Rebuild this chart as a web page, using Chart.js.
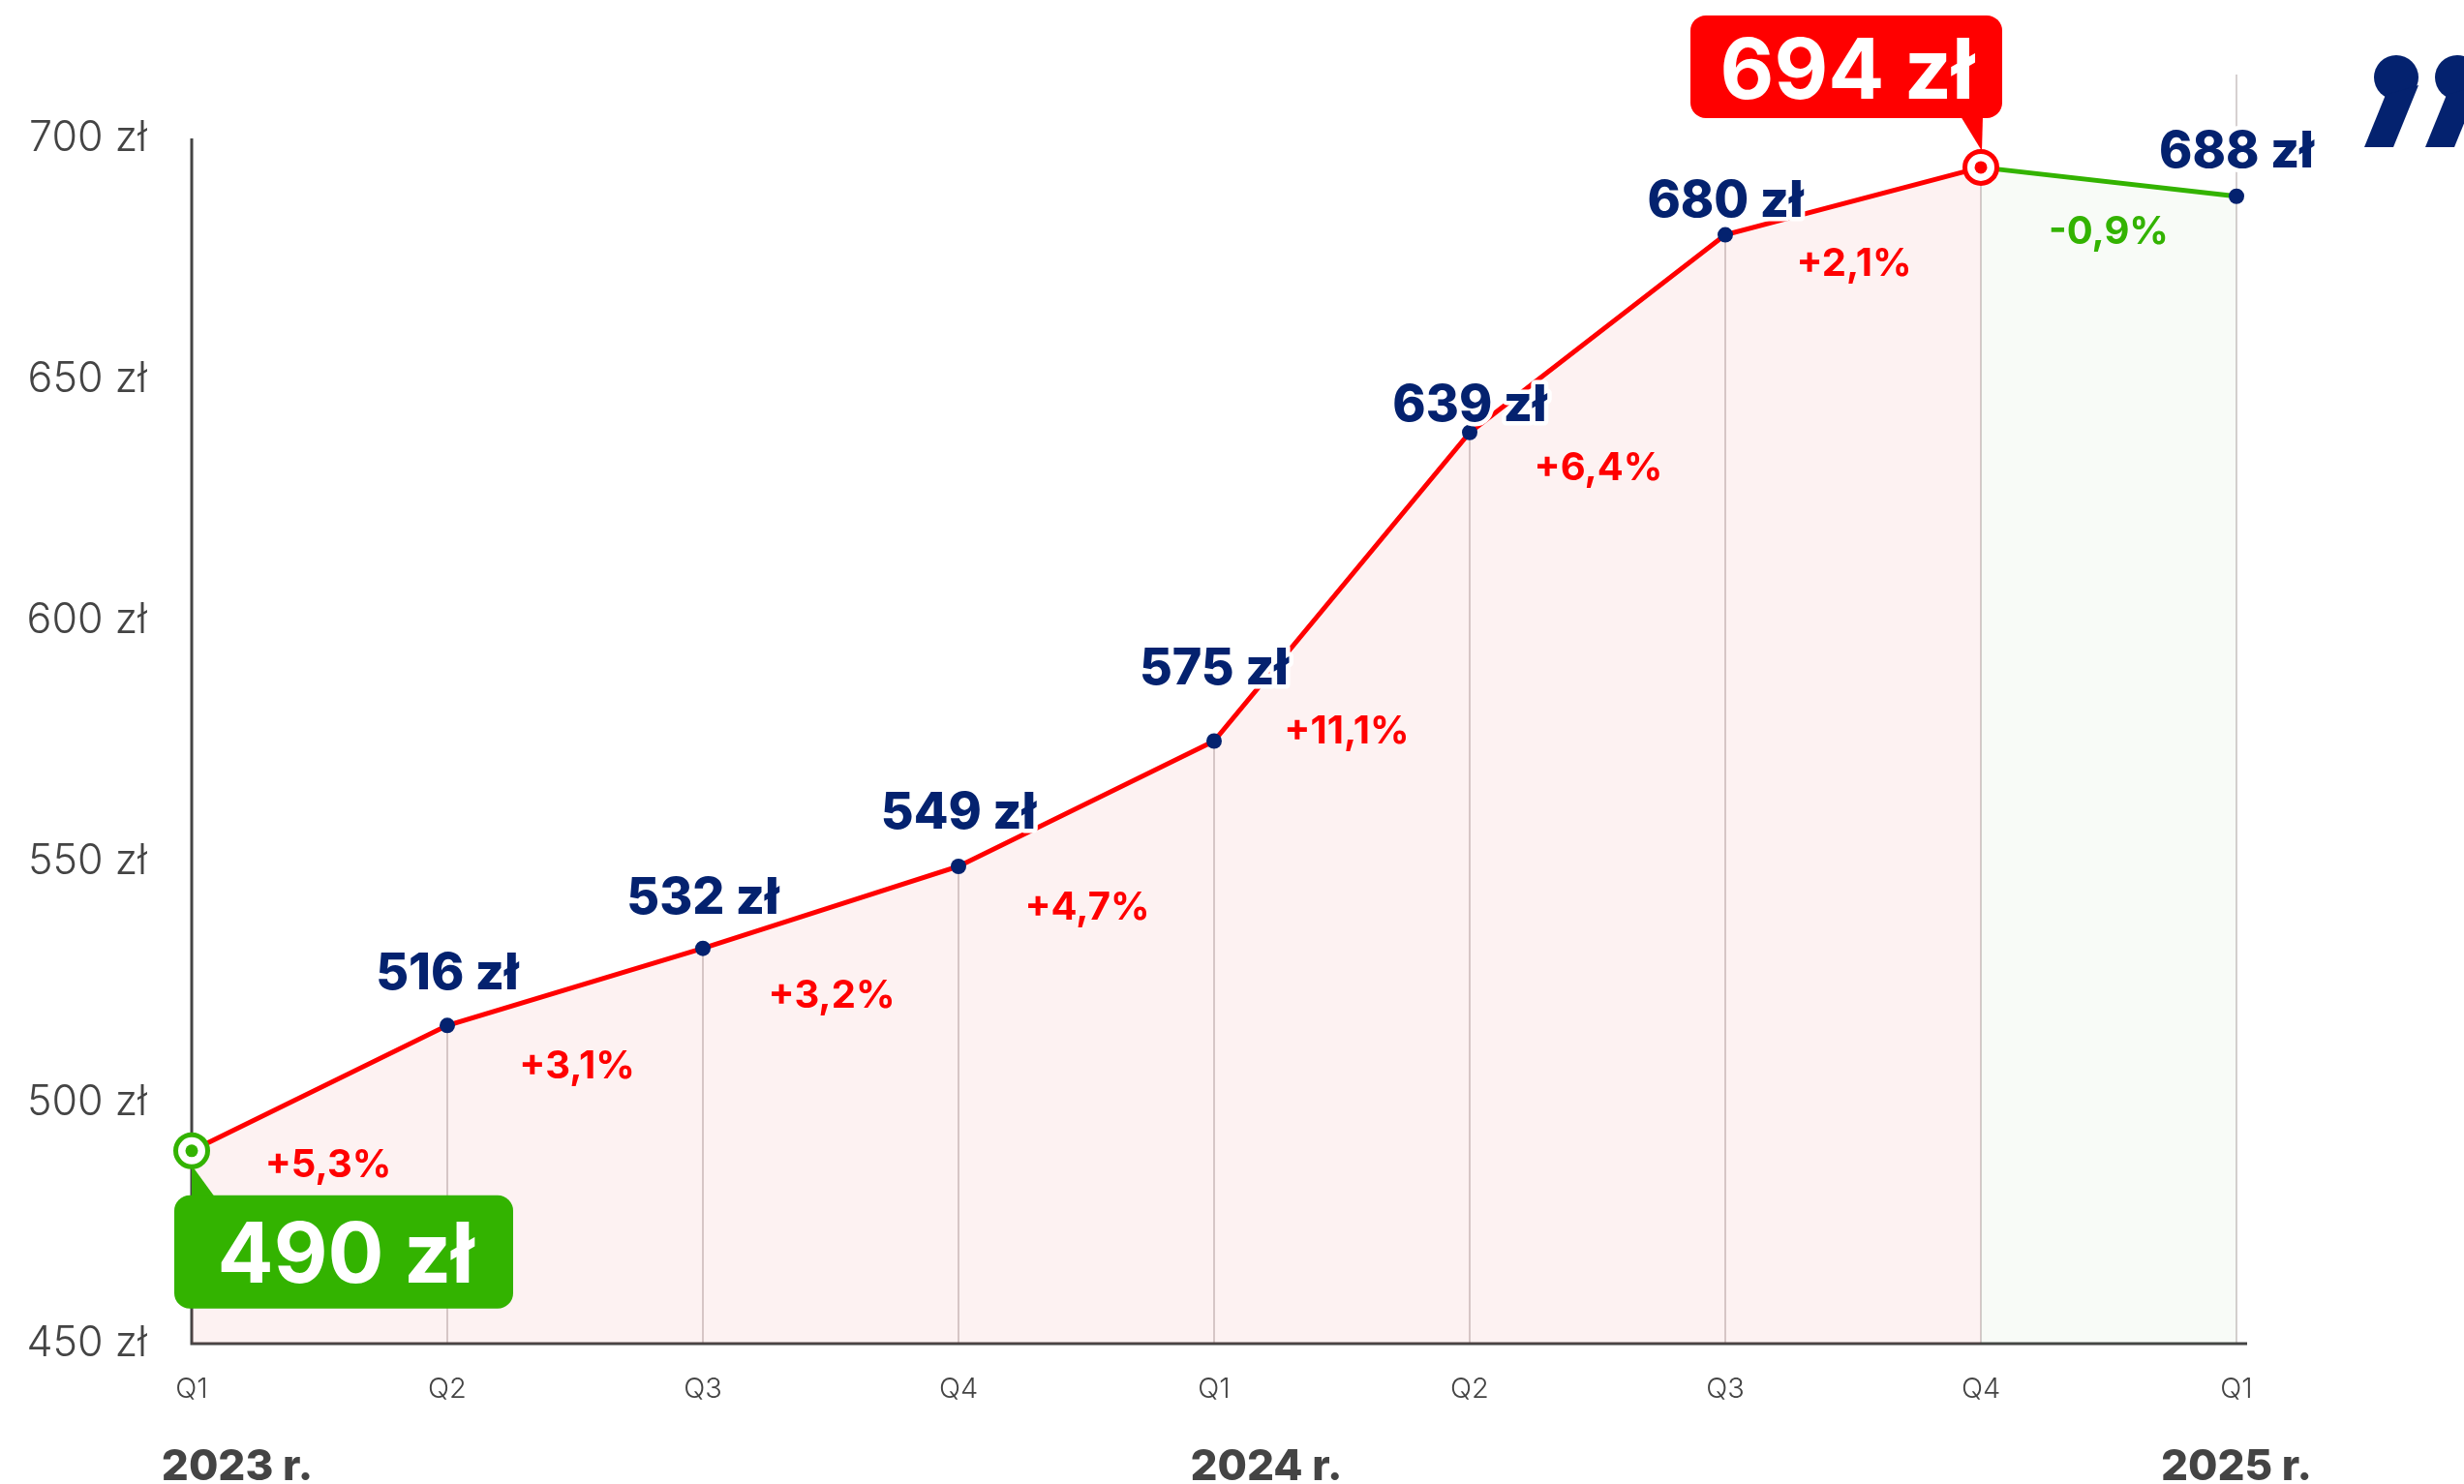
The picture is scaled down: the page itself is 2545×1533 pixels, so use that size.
<!DOCTYPE html>
<html lang="pl">
<head>
<meta charset="utf-8">
<script src="https://cdn.jsdelivr.net/npm/chart.js@4.4.1/dist/chart.umd.min.js"></script>
<style>
  html, body { margin: 0; padding: 0; background: #fff; overflow: hidden; }
  canvas { display: block; }
</style>
</head>
<body>
<canvas id="wykres" width="2545" height="1533"></canvas>
<script>
// Dane wykresu
const kwartaly = ['Q1', 'Q2', 'Q3', 'Q4', 'Q1', 'Q2', 'Q3', 'Q4', 'Q1'];
const ceny = [490, 516, 532, 549, 575, 639, 680, 694, 688];
const zmiany = ['+5,3%', '+3,1%', '+3,2%', '+4,7%', '+11,1%', '+6,4%', '+2,1%', '-0,9%'];
const lata = ['2023 r.', '2024 r.', '2025 r.'];
const lataIndeks = [0, 4, 8];
const osY = [450, 500, 550, 600, 650, 700];

// Styl (przesunięcia etykiet w px)
const uniesienieCeny = [0, 56, 55, 58, 77, 31, 38, 0, 49];
const opadZmiany = [77, 80, 89, 105, 147, 137, 63, 50];
const przesuniecieZmiany = [9, 2, 1, 1, 5, 1, 1, 0];
const przesuniecieRoku = [47, 54, 0];

const FONT = 'Inter, "Open Sans", sans-serif';
const GRANAT = '#04226f';
const CZERWONY = '#ff0000';
const ZIELONY = '#33b300';
const SZARY = '#444444';

function tekst(ctx, txt, x, cy, size, weight, color, halo) {
    ctx.font = weight + ' ' + size + 'px ' + FONT;
    ctx.textAlign = 'center';
    ctx.textBaseline = 'alphabetic';
    const y = cy + size * 0.364;
    if (halo) {
        ctx.lineJoin = 'round';
        ctx.lineWidth = halo;
        ctx.strokeStyle = '#fff';
        ctx.strokeText(txt, x, y);
    }
    ctx.fillStyle = color;
    ctx.fillText(txt, x, y);
}

function przecinek(ctx, ox, oy) {
    ctx.beginPath();
    ctx.arc(ox + 33, oy + 22, 23, 0, Math.PI * 2);
    ctx.fill();
    ctx.beginPath();
    ctx.moveTo(ox + 56, oy + 30);
    ctx.lineTo(ox + 30, oy + 94);
    ctx.lineTo(ox + 0, oy + 94);
    ctx.lineTo(ox + 22, oy + 40);
    ctx.closePath();
    ctx.fill();
}

const tloIOsie = {
    id: 'tloIOsie',
    beforeDatasetsDraw(chart) {
        const { ctx, chartArea } = chart;
        const pts = chart.getDatasetMeta(0).data;
        ctx.save();
        // pionowe linie siatki od punktu do osi
        ctx.strokeStyle = '#d6d0d0';
        ctx.lineWidth = 2;
        pts.forEach((p, i) => {
            if (i === 0) return;
            const top = i === pts.length - 1 ? 77 : p.y;
            ctx.beginPath();
            ctx.moveTo(p.x, top);
            ctx.lineTo(p.x, chartArea.bottom);
            ctx.stroke();
        });
        // osie
        ctx.strokeStyle = SZARY;
        ctx.lineWidth = 3;
        ctx.beginPath();
        ctx.moveTo(chartArea.left, chartArea.top);
        ctx.lineTo(chartArea.left, chartArea.bottom);
        ctx.lineTo(chartArea.right + 11, chartArea.bottom);
        ctx.stroke();
        ctx.restore();
    }
};

const etykiety = {
    id: 'etykiety',
    afterDatasetsDraw(chart) {
        const { ctx } = chart;
        const pts = chart.getDatasetMeta(0).data;
        const last = pts.length - 1;
        ctx.save();

        // dymek z ceną początkową
        const p0 = pts[0];
        const b0 = { x: p0.x - 18, y: p0.y + 46, w: 350, h: 117 };
        ctx.fillStyle = ZIELONY;
        ctx.beginPath();
        ctx.moveTo(p0.x, p0.y + 15);
        ctx.lineTo(p0.x + 24, b0.y + 2);
        ctx.lineTo(p0.x, b0.y + 2);
        ctx.closePath();
        ctx.fill();
        ctx.beginPath();
        ctx.roundRect(b0.x, b0.y, b0.w, b0.h, 16);
        ctx.fill();
        tekst(ctx, ceny[0] + ' zł', b0.x + b0.w / 2 + 2, b0.y + b0.h / 2, 86, 700, '#fff');

        // dymek z ceną maksymalną
        const pm = pts[7];
        const bm = { w: 322, h: 106 };
        bm.x = pm.x + 22 - bm.w;
        bm.y = pm.y - 51 - bm.h;
        ctx.fillStyle = CZERWONY;
        ctx.beginPath();
        ctx.moveTo(pm.x - 21, bm.y + bm.h - 2);
        ctx.lineTo(pm.x + 2, bm.y + bm.h - 2);
        ctx.lineTo(pm.x + 1, pm.y - 17);
        ctx.closePath();
        ctx.fill();
        ctx.beginPath();
        ctx.roundRect(bm.x, bm.y, bm.w, bm.h, 16);
        ctx.fill();
        tekst(ctx, ceny[7] + ' zł', bm.x + bm.w / 2 + 1, bm.y + bm.h / 2 + 2, 86, 700, '#fff');

        // środki pierścieni
        ctx.fillStyle = ZIELONY;
        ctx.beginPath(); ctx.arc(p0.x, p0.y, 6.5, 0, Math.PI * 2); ctx.fill();
        ctx.fillStyle = CZERWONY;
        ctx.beginPath(); ctx.arc(pm.x, pm.y, 6.5, 0, Math.PI * 2); ctx.fill();

        // ceny nad punktami
        pts.forEach((p, i) => {
            if (i === 0 || i === 7) return;
            tekst(ctx, ceny[i] + ' zł', p.x, p.y - uniesienieCeny[i], 52, 800, GRANAT, 9);
        });

        // zmiany procentowe
        zmiany.forEach((z, i) => {
            const a = pts[i], b = pts[i + 1];
            const x = (a.x + b.x) / 2 + przesuniecieZmiany[i];
            const y = (a.y + b.y) / 2 + opadZmiany[i];
            tekst(ctx, z, x, y, 40, 650, i === last - 1 ? ZIELONY : CZERWONY);
        });

        // lata pod osią
        lata.forEach((r, i) => {
            const x = chart.scales.x.getPixelForValue(lataIndeks[i]) + przesuniecieRoku[i];
            tekst(ctx, r, x, 1513, 44, 800, SZARY);
        });

        // cudzysłów
        ctx.fillStyle = GRANAT;
        przecinek(ctx, 2442, 58);
        przecinek(ctx, 2505, 58);

        ctx.restore();
    }
};

const specjalny = i => i === 0 || i === 7;

new Chart(document.getElementById('wykres'), {
    type: 'line',
    data: {
        labels: kwartaly,
        datasets: [{
            data: ceny,
            borderColor: CZERWONY,
            borderWidth: 5,
            tension: 0,
            fill: 'start',
            backgroundColor: 'rgba(230, 60, 60, 0.065)',
            segment: {
                borderColor: c => c.p1DataIndex === ceny.length - 1 ? ZIELONY : CZERWONY,
                backgroundColor: c => c.p1DataIndex === ceny.length - 1 ? 'rgba(100, 170, 60, 0.045)' : 'rgba(230, 60, 60, 0.065)'
            },
            pointRadius: c => specjalny(c.dataIndex) ? 16.5 : 8,
            pointBackgroundColor: c => specjalny(c.dataIndex) ? '#ffffff' : GRANAT,
            pointBorderColor: c => c.dataIndex === 0 ? ZIELONY : (c.dataIndex === 7 ? CZERWONY : GRANAT),
            pointBorderWidth: c => specjalny(c.dataIndex) ? 5 : 0,
            clip: false
        }]
    },
    options: {
        responsive: false,
        devicePixelRatio: 1,
        animation: false,
        layout: { padding: { top: 143, right: 235, left: 0, bottom: 0 } },
        plugins: {
            legend: { display: false },
            tooltip: { enabled: false }
        },
        scales: {
            x: {
                offset: false,
                grid: { display: false },
                border: { display: false },
                afterFit: s => { s.height = 145; },
                ticks: {
                    autoSkip: false,
                    maxRotation: 0,
                    padding: 22,
                    color: SZARY,
                    font: { family: FONT, size: 29, weight: 300 }
                }
            },
            y: {
                min: osY[0],
                max: osY[osY.length - 1],
                grid: { display: false },
                border: { display: false },
                afterFit: s => { s.width = 198; },
                afterBuildTicks: s => { s.ticks = osY.map(v => ({ value: v })); },
                ticks: {
                    padding: 38,
                    color: SZARY,
                    font: { family: FONT, size: 43, weight: 300 },
                    callback: v => v + ' zł'
                }
            }
        }
    },
    plugins: [tloIOsie, etykiety]
});
</script>
</body>
</html>
